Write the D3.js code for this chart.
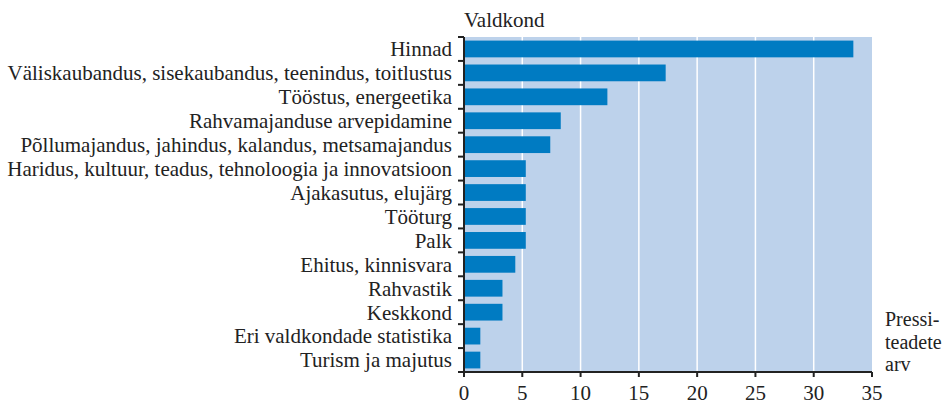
<!DOCTYPE html>
<html>
<head>
<meta charset="utf-8">
<script src="https://cdn.jsdelivr.net/npm/d3@7"></script>
<style>
  body { margin: 0; background: #fff; }
</style>
</head>
<body>
<div id="chart"></div>
<script>
// data
var categories = [
  "Hinnad",
  "Väliskaubandus, sisekaubandus, teenindus, toitlustus",
  "Tööstus, energeetika",
  "Rahvamajanduse arvepidamine",
  "Põllumajandus, jahindus, kalandus, metsamajandus",
  "Haridus, kultuur, teadus, tehnoloogia ja innovatsioon",
  "Ajakasutus, elujärg",
  "Tööturg",
  "Palk",
  "Ehitus, kinnisvara",
  "Rahvastik",
  "Keskkond",
  "Eri valdkondade statistika",
  "Turism ja majutus"
];
var values = [33.4, 17.3, 12.3, 8.3, 7.4, 5.3, 5.3, 5.3, 5.3, 4.4, 3.3, 3.3, 1.4, 1.4];
var xTicks = [0, 5, 10, 15, 20, 25, 30, 35];
var unitLines = ["Pressi-", "teadete", "arv"];

var fontFamily = "'Liberation Serif'";
var fontSize = 21;

var svgWidth = 946;
var svgHeight = 403;
var margin = { top: 37, right: 74, bottom: 31, left: 464 };
var width = svgWidth - margin.left - margin.right;
var height = svgHeight - margin.top - margin.bottom;

var svg = d3.select("#chart")
  .append("svg")
  .attr("width", svgWidth)
  .attr("height", svgHeight);

var chartGroup = svg.append("g")
  .attr("transform", `translate(${margin.left}, ${margin.top})`);

var x = d3.scaleLinear().domain([0, 35]).range([0, width]);
var y = d3.scaleBand().domain(categories).range([0, height]).paddingInner(0.3).paddingOuter(0.15);

// background
chartGroup.append("rect")
  .attr("x", 0)
  .attr("y", 0)
  .attr("width", width)
  .attr("height", height)
  .attr("fill", "#bdd2eb");

// gridlines
chartGroup.selectAll(".grid")
  .data(xTicks.slice(1, -1))
  .enter()
  .append("line")
  .attr("x1", d => x(d))
  .attr("x2", d => x(d))
  .attr("y1", 0)
  .attr("y2", height)
  .attr("stroke", "#fff")
  .attr("stroke-width", 1.5);

// bars
chartGroup.selectAll(".bar")
  .data(values)
  .enter()
  .append("rect")
  .attr("x", x(0))
  .attr("y", (d, i) => y(categories[i]))
  .attr("width", d => x(d) - x(0))
  .attr("height", y.bandwidth())
  .attr("fill", "#007bc2");

// y axis with ticks at category boundaries
var step = height / categories.length;
var yBounds = d3.range(categories.length + 1).map(i => i * step);
chartGroup.append("line")
  .attr("x1", 0).attr("x2", 0)
  .attr("y1", 0).attr("y2", height)
  .attr("stroke", "#222").attr("stroke-width", 2);
chartGroup.selectAll(".ytick")
  .data(yBounds)
  .enter()
  .append("line")
  .attr("x1", -6).attr("x2", 0)
  .attr("y1", d => d).attr("y2", d => d)
  .attr("stroke", "#222").attr("stroke-width", 2);

chartGroup.selectAll(".ylabel")
  .data(categories)
  .enter()
  .append("text")
  .attr("x", -12)
  .attr("y", d => y(d) + y.bandwidth() / 2)
  .attr("dy", "0.35em")
  .attr("text-anchor", "end")
  .attr("font-family", fontFamily)
  .attr("font-size", fontSize)
  .attr("fill", "#222")
  .text(d => d);

// x axis
chartGroup.append("line")
  .attr("x1", 0).attr("x2", width)
  .attr("y1", height).attr("y2", height)
  .attr("stroke", "#222").attr("stroke-width", 2);
chartGroup.selectAll(".xtick")
  .data(xTicks)
  .enter()
  .append("line")
  .attr("x1", d => x(d)).attr("x2", d => x(d))
  .attr("y1", height).attr("y2", height + 5)
  .attr("stroke", "#222").attr("stroke-width", 2);
chartGroup.selectAll(".xlabel")
  .data(xTicks)
  .enter()
  .append("text")
  .attr("x", d => x(d))
  .attr("y", height + 28)
  .attr("text-anchor", "middle")
  .attr("font-family", fontFamily)
  .attr("font-size", fontSize)
  .attr("fill", "#222")
  .text(d => d);

// axis titles
chartGroup.append("text")
  .attr("x", 0)
  .attr("y", -10)
  .attr("font-family", fontFamily)
  .attr("font-size", fontSize)
  .attr("fill", "#222")
  .text("Valdkond");

chartGroup.selectAll(".unit")
  .data(unitLines)
  .enter()
  .append("text")
  .attr("x", width + 13)
  .attr("y", (d, i) => height - 46 + i * 22.5)
  .attr("font-family", fontFamily)
  .attr("font-size", 20)
  .attr("fill", "#222")
  .text(d => d);
</script>
</body>
</html>
